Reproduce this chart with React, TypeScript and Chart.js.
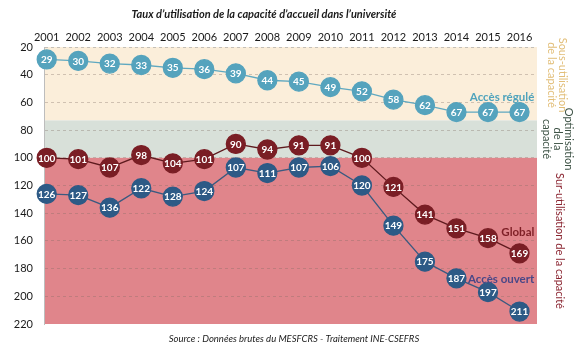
import React, { useEffect, useRef } from "react";
import { Chart, registerables } from "chart.js";

Chart.register(...registerables);

const years = [2001, 2002, 2003, 2004, 2005, 2006, 2007, 2008, 2009, 2010, 2011, 2012, 2013, 2014, 2015, 2016];
const accesRegule = [29, 30, 32, 33, 35, 36, 39, 44, 45, 49, 52, 58, 62, 67, 67, 67];
const globalRate = [100, 101, 107, 98, 104, 101, 90, 94, 91, 91, 100, 121, 141, 151, 158, 169];
const accesOuvert = [126, 127, 136, 122, 128, 124, 107, 111, 107, 106, 120, 149, 175, 187, 197, 211];
const yTicks = [20, 40, 60, 80, 100, 120, 140, 160, 180, 200, 220];
const bands = [
  { from: 20, to: 73, color: "#FBEEDA" },
  { from: 73, to: 100, color: "#D8E0D9" },
  { from: 100, to: 220, color: "#E0858B" },
];

const title = "Taux d’utilisation de la capacité d’accueil dans l’université";
const source = "Source : Données brutes du MESFCRS - Traitement INE-CSEFRS";

const FONT = "Lato, 'Open Sans', sans-serif";

const bandsPlugin = {
  id: "bands",
  beforeDraw(chart: any) {
    const { ctx, chartArea, scales } = chart;
    const y = scales.y;
    ctx.save();
    for (const b of bands) {
      const y1 = y.getPixelForValue(b.from);
      const y2 = y.getPixelForValue(b.to);
      ctx.fillStyle = b.color;
      ctx.fillRect(chartArea.left, y1, chartArea.right - chartArea.left, y2 - y1);
    }
    ctx.restore();
  },
};

const labelsPlugin = {
  id: "labels",
  afterDatasetsDraw(chart: any) {
    const { ctx, scales } = chart;
    ctx.save();
    ctx.textAlign = "center";
    ctx.textBaseline = "middle";
    ctx.fillStyle = "#ffffff";
    ctx.font = `bold 10px ${FONT}`;
    chart.data.datasets.forEach((ds: any, i: number) => {
      const meta = chart.getDatasetMeta(i);
      meta.data.forEach((pt: any, j: number) => {
        ctx.fillText(String(ds.data[j].y), pt.x, pt.y + 0.5);
      });
    });

    // series names
    const x = scales.x;
    const y = scales.y;
    ctx.textAlign = "right";
    ctx.font = `bold 11.5px ${FONT}`;
    const rx = x.getPixelForValue(2016.47);
    ctx.fillStyle = "#4FA3BC";
    ctx.fillText("Accès régulé", rx, y.getPixelForValue(56.5));
    ctx.fillStyle = "#7E1F26";
    ctx.fillText("Global", rx, y.getPixelForValue(153.5));
    ctx.fillStyle = "#4A4787";
    ctx.fillText("Accès ouvert", rx, y.getPixelForValue(187.5));

    // title and source
    ctx.textAlign = "center";
    ctx.fillStyle = "#1a1a1a";
    ctx.font = `italic bold 11px ${FONT}`;
    ctx.fillText(title, 264, 14);
    ctx.font = `italic 9.5px ${FONT}`;
    ctx.fillText(source, 294, 339);

    // right side rotated texts
    const rot = (lines: string[], cx: number, cy: number, color: string, lh: number) => {
      ctx.save();
      ctx.translate(cx, cy);
      ctx.rotate(Math.PI / 2);
      ctx.fillStyle = color;
      ctx.font = `11px ${FONT}`;
      ctx.textAlign = "center";
      ctx.textBaseline = "middle";
      const n = lines.length;
      lines.forEach((l, k) => {
        ctx.fillText(l, 0, (k - (n - 1) / 2) * lh);
      });
      ctx.restore();
    };
    rot(["Sous-utilisation", "de la capacité"], 557, 75, "#E2BE78", 11);
    rot(["Optimisation", "de la", "capacité"], 558, 139, "#3F5447", 11);
    rot(["Sur-utilisation de la capacité"], 560, 241, "#8A2430", 11);
    ctx.restore();
  },
};

export default function App() {
  const ref = useRef<HTMLCanvasElement | null>(null);
  useEffect(() => {
    if (!ref.current) return;
    const mk = (arr: number[]) => arr.map((v, i) => ({ x: years[i], y: v }));
    const common = {
      borderWidth: 1.3,
      pointRadius: 9.5,
      pointHoverRadius: 9.5,
      clip: false,
    };
    const chart = new Chart(ref.current, {
      type: "line",
      data: {
        datasets: [
          {
            label: "Accès régulé",
            data: mk(accesRegule),
            borderColor: "#5FA8C0",
            backgroundColor: "#55A3BD",
            pointBackgroundColor: "#55A3BD",
            pointBorderColor: "#55A3BD",
            ...common,
          },
          {
            label: "Global",
            data: mk(globalRate),
            borderColor: "#5E1A1E",
            backgroundColor: "#7A1E25",
            pointBackgroundColor: "#7A1E25",
            pointBorderColor: "#7A1E25",
            ...common,
          },
          {
            label: "Accès ouvert",
            data: mk(accesOuvert),
            borderColor: "#3A5A80",
            backgroundColor: "#2D5A86",
            pointBackgroundColor: "#2D5A86",
            pointBorderColor: "#2D5A86",
            ...common,
          },
        ],
      },
      options: {
        responsive: false,
        animation: false,
        layout: { padding: { top: 0, left: 0, right: 43, bottom: 26 } },
        plugins: { legend: { display: false }, tooltip: { enabled: false }, title: { display: false } },
        scales: {
          x: {
            type: "linear",
            position: "top",
            min: 2000.914,
            max: 2016.555,
            afterBuildTicks: (s: any) => {
              s.ticks = years.map((v) => ({ value: v }));
            },
            afterFit: (s: any) => {
              s.height = 47;
            },
            grid: { display: false, drawTicks: false },
            border: { display: false },
            ticks: {
              padding: 3,
              color: "#1a1a1a",
              font: { family: FONT, size: 11 },
              callback: (v: any) => String(v),
              maxRotation: 0,
              autoSkip: false,
            },
          },
          y: {
            type: "linear",
            reverse: true,
            min: 20,
            max: 220,
            afterBuildTicks: (s: any) => {
              s.ticks = yTicks.map((v) => ({ value: v }));
            },
            afterFit: (s: any) => {
              s.width = 44;
            },
            grid: {
              drawTicks: false,
              color: (c: any) =>
                c.tick && c.tick.value === 220
                  ? "rgba(255,255,255,0.9)"
                  : c.tick && c.tick.value === 20
                  ? "rgba(160,160,160,0.6)"
                  : "rgba(130,110,100,0.35)",
              lineWidth: 1,
            },
            border: { display: true, color: "#bdbdbd", dash: [3, 3] },
            ticks: {
              padding: 11,
              color: "#1a1a1a",
              font: { family: FONT, size: 11 },
            },
          },
        },
      },
      plugins: [bandsPlugin, labelsPlugin],
    } as any);
    return () => chart.destroy();
  }, []);
  return (
    <div style={{ position: "fixed", left: 0, top: 0, width: 580, height: 350, background: "#fff" }}>
      <canvas ref={ref} width={580} height={350} style={{ width: 580, height: 350 }} />
    </div>
  );
}
